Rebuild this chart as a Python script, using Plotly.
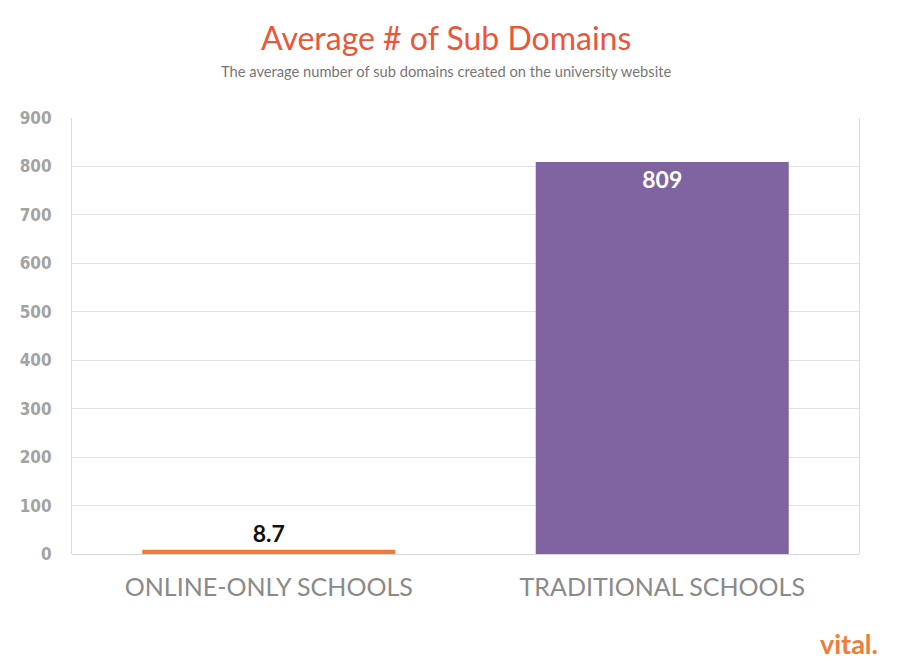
import plotly.graph_objects as go

# Data
schools = ['ONLINE-ONLY SCHOOLS', 'TRADITIONAL SCHOOLS']
avg_subdomains = [8.7, 809]
bar_labels = ['8.7', '809']
bar_colors = ['#EF7D3A', '#8064A2']
y_ticks = [0, 100, 200, 300, 400, 500, 600, 700, 800, 900]

fig = go.Figure()
fig.add_trace(go.Bar(
    x=schools, y=avg_subdomains,
    marker=dict(color=bar_colors, line=dict(width=0)),
    text=bar_labels,
    textposition=['outside', 'inside'],
    insidetextanchor='end',
    outsidetextfont=dict(family='Lato', size=23, color='#111111', weight='bold'),
    insidetextfont=dict(family='Lato', size=23, color='#ffffff', weight='bold'),
    cliponaxis=False,
))

# page has an 8px body margin, so margins are shifted to land the plot area
fig.update_layout(
    width=900, height=668,
    paper_bgcolor='white', plot_bgcolor='white',
    margin=dict(l=64, r=49, t=110, b=122, autoexpand=False),
    bargap=0.357,
    showlegend=False,
)

# title + subtitle, centred on the page rather than the plot area
fig.add_annotation(text='Average # of Sub Domains', xref='paper', yref='paper',
                   x=0.5, xshift=-20, y=1.0, yshift=81, xanchor='center', yanchor='middle',
                   showarrow=False,
                   font=dict(family='Lato', size=32, color='#E9573A'))
fig.add_annotation(text='The average number of sub domains created on the university website',
                   xref='paper', yref='paper', x=0.5, xshift=-20, y=1.0, yshift=47,
                   xanchor='center', yanchor='middle', showarrow=False,
                   font=dict(family='Lato', size=14.7, color='#777777'))

fig.add_annotation(text='<b>vital.</b>', xref='paper', yref='paper',
                   x=1.0, xshift=21, y=0.0, yshift=-89, xanchor='right', yanchor='middle',
                   showarrow=False,
                   font=dict(family='Lato', size=27, color='#EF7D3A'))

fig.update_xaxes(showgrid=False, showline=False, ticks='', automargin=False,
                 tickfont=dict(family='Lato', size=25, color='#8a8a8a'),
                 ticklabelstandoff=16)
fig.update_yaxes(range=[0, 900], tickvals=y_ticks, showgrid=True, automargin=False,
                 gridcolor='#e3e3e3', gridwidth=1,
                 zeroline=True, zerolinecolor='#d6d6d6', zerolinewidth=1,
                 showline=True, mirror=True, linecolor='#dcdcdc', linewidth=1,
                 ticks='', ticklabelstandoff=16,
                 tickfont=dict(family='DejaVu Sans Condensed', size=17,
                               color='#a3a3a3', weight='bold'))

fig.write_html('out.html')
